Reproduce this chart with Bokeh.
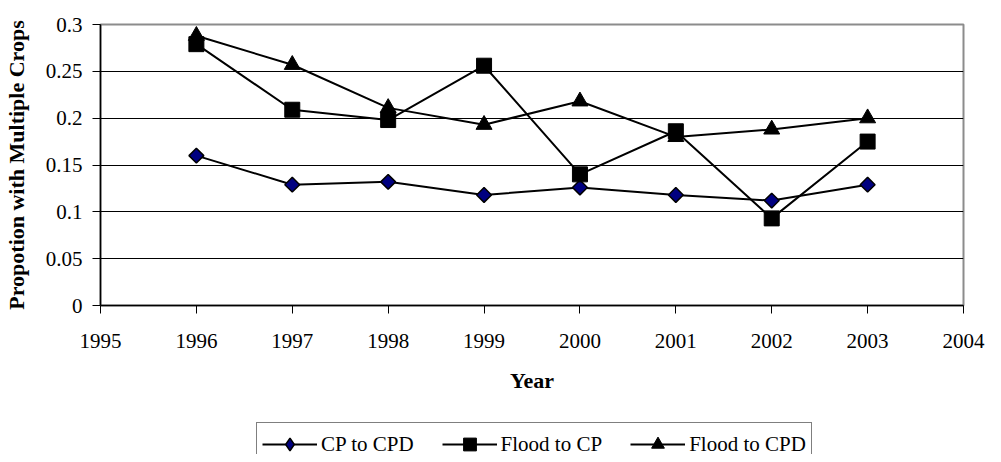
import numpy as np
from bokeh.plotting import figure
from bokeh.layouts import column
from bokeh.models import Range1d, FixedTicker, NumeralTickFormatter, Legend, LegendItem
from bokeh.embed import file_html
from bokeh.resources import INLINE

years = [1996, 1997, 1998, 1999, 2000, 2001, 2002, 2003]
cp_to_cpd = [0.160, 0.129, 0.132, 0.118, 0.126, 0.118, 0.112, 0.129]
flood_to_cp = [0.279, 0.209, 0.198, 0.256, 0.140, 0.186, 0.093, 0.175]
flood_to_cpd = [0.288, 0.257, 0.211, 0.193, 0.218, 0.180, 0.188, 0.200]
series_names = ["CP to CPD", "Flood to CP", "Flood to CPD"]
x_ticks = list(range(1995, 2005))
y_ticks = [0, 0.05, 0.1, 0.15, 0.2, 0.25, 0.3]

FONT = "'Liberation Serif'"

# ---- main chart ----
p = figure(width=985, height=420, output_backend="svg", toolbar_location=None,
           x_range=Range1d(1995, 2004), y_range=Range1d(0, 0.3),
           min_border_left=92, min_border_right=22, min_border_top=24,
           min_border_bottom=115)
p.background_fill_color = "white"
p.border_fill_color = "white"
p.outline_line_color = "#8c8c8c"
p.outline_line_width = 2

p.xgrid.visible = False
p.ygrid.grid_line_color = "black"
p.ygrid.grid_line_width = 1
p.ygrid.ticker = FixedTicker(ticks=y_ticks)

for ax in (p.xaxis[0], p.yaxis[0]):
    ax.axis_line_color = "black"
    ax.axis_line_width = 1.5
    ax.major_tick_line_color = "black"
    ax.major_tick_in = 0
    ax.major_tick_out = 8
    ax.minor_tick_line_color = None
    ax.major_label_text_font = FONT
    ax.major_label_text_font_size = "21px"
    ax.major_label_text_color = "black"
    ax.axis_label_text_font = FONT
    ax.axis_label_text_font_size = "22px"
    ax.axis_label_text_font_style = "bold"
    ax.axis_label_text_color = "black"

p.xaxis.ticker = FixedTicker(ticks=x_ticks)
p.yaxis.ticker = FixedTicker(ticks=y_ticks)
p.yaxis.formatter = NumeralTickFormatter(format="0.[00]")
p.xaxis.axis_label = "Year"
p.yaxis.axis_label = "Propotion with Multiple Crops"
p.xaxis.major_label_standoff = 20
p.xaxis.axis_label_standoff = 17
p.yaxis.major_label_standoff = 10
p.yaxis.axis_label_standoff = 14

p.line(years, cp_to_cpd, line_color="black", line_width=2)
p.scatter(years, cp_to_cpd, marker="square", size=10.5, angle=np.pi / 4,
          fill_color="#000080", line_color="black", line_width=1.5)
p.line(years, flood_to_cp, line_color="black", line_width=2)
p.scatter(years, flood_to_cp, marker="square", size=15,
          fill_color="black", line_color="black")
p.line(years, flood_to_cpd, line_color="black", line_width=2)
p.scatter(years, flood_to_cpd, marker="triangle", size=16,
          fill_color="black", line_color="black")

# ---- legend strip (glyph samples kept outside its visible range) ----
q = figure(width=985, height=34, output_backend="svg", toolbar_location=None,
           x_range=Range1d(10, 11), y_range=Range1d(10, 11),
           x_axis_type=None, y_axis_type=None,
           min_border_left=0, min_border_right=0, min_border_top=0,
           min_border_bottom=0)
q.outline_line_color = None
q.background_fill_color = "white"
q.border_fill_color = "white"

hx = [0, 1]
hy = [0, 0]
ql1 = q.line(hx, hy, line_color="black", line_width=2)
qs1 = q.scatter(hx, hy, marker="diamond", size=14,
                fill_color="#000080", line_color="black", line_width=1.5)
ql2 = q.line(hx, hy, line_color="black", line_width=2)
qs2 = q.scatter(hx, hy, marker="square", size=15,
                fill_color="black", line_color="black")
ql3 = q.line(hx, hy, line_color="black", line_width=2)
qs3 = q.scatter(hx, hy, marker="triangle", size=16,
                fill_color="black", line_color="black")

legend = Legend(items=[
    LegendItem(label=series_names[0], renderers=[ql1, qs1]),
    LegendItem(label=series_names[1], renderers=[ql2, qs2]),
    LegendItem(label=series_names[2], renderers=[ql3, qs3]),
], orientation="horizontal", location=(156, -12))
legend.label_text_font = FONT
legend.label_text_font_size = "21px"
legend.label_text_color = "black"
legend.glyph_width = 55
legend.glyph_height = 32
legend.label_height = 24
legend.label_standoff = 4
legend.spacing = 28
legend.padding = 5
legend.margin = 0
legend.border_line_color = "black"
legend.border_line_width = 1
legend.background_fill_color = "white"
legend.background_fill_alpha = 1
q.add_layout(legend, "center")

layout = column(p, q, spacing=0)
open("out.html", "w").write(file_html(layout, INLINE))
